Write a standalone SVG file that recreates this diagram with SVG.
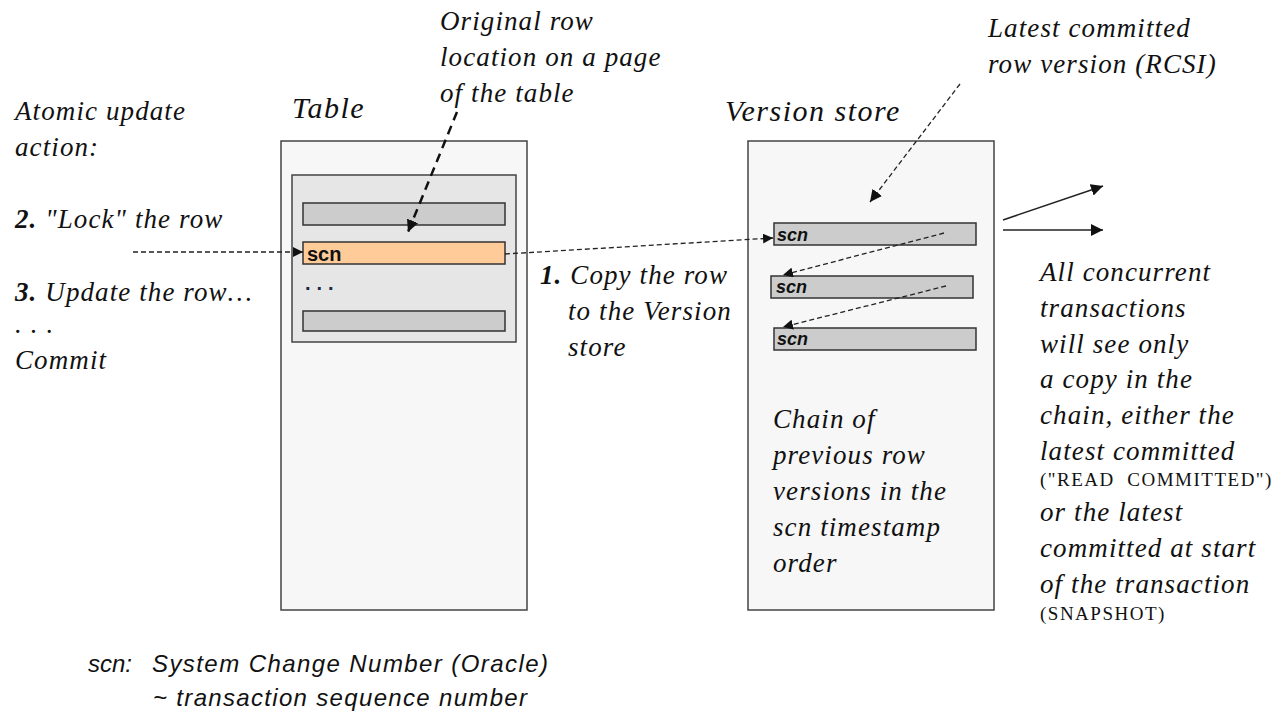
<svg xmlns="http://www.w3.org/2000/svg" width="1285" height="713" viewBox="0 0 1285 713">
<style>
.t{font-family:"Liberation Serif",serif;font-style:italic;font-size:27px;letter-spacing:1.1px;fill:#111}
.h{font-family:"Liberation Serif",serif;font-style:italic;font-size:30px;letter-spacing:1.5px;fill:#111}
.s{font-family:"Liberation Serif",serif;font-size:19px;letter-spacing:1.5px;fill:#111}
.f{font-family:"Liberation Sans",sans-serif;font-style:italic;font-size:24px;fill:#111}
.box{fill:#f7f7f7;stroke:#444;stroke-width:1.5}
.inner{fill:#e6e6e6;stroke:#444;stroke-width:1.5}
.row{fill:#cccccc;stroke:#333;stroke-width:1.5}
.hl{fill:#ffcc99;stroke:#333;stroke-width:1.5}
.scn{font-family:"Liberation Sans",sans-serif;font-weight:bold;font-style:italic;font-size:18px;fill:#111}
.d{fill:none;stroke:#222;stroke-width:1.3;stroke-dasharray:5,3}
.dt{fill:none;stroke:#111;stroke-width:2.5;stroke-dasharray:9,6}
.sl{fill:none;stroke:#222;stroke-width:1.5}
</style>
<defs>
<marker id="a" viewBox="0 0 10 10" refX="10" refY="5" markerWidth="10" markerHeight="10" markerUnits="userSpaceOnUse" orient="auto"><path d="M0,0 L10,5 L0,10 z" fill="#111"/></marker>
<marker id="ab" viewBox="0 0 10 10" refX="10" refY="5" markerWidth="12" markerHeight="12" markerUnits="userSpaceOnUse" orient="auto"><path d="M0,0 L10,5 L0,10 z" fill="#111"/></marker>
</defs>
<g id="table">
<rect class="box" x="281" y="141" width="246" height="469"/>
<rect class="inner" x="292" y="175" width="224" height="167"/>
<rect class="row" x="303" y="203" width="202" height="22"/>
<rect class="hl" x="303" y="242" width="202" height="22"/>
<text x="307" y="261" style="font-family:'Liberation Sans',sans-serif;font-weight:bold;font-size:20px;fill:#111">scn</text>
<text x="305" y="290" style="font-family:'Liberation Sans',sans-serif;font-weight:bold;font-size:20px;fill:#1a2a44;letter-spacing:6px">...</text>
<rect class="row" x="303" y="311" width="202" height="20"/>
<text class="h" x="292" y="118">Table</text>
</g>
<g id="version-store">
<rect class="box" x="748" y="141" width="246" height="469"/>
<rect class="row" x="774" y="223" width="202" height="22"/>
<text class="scn" x="777" y="241">scn</text>
<rect class="row" x="771" y="276" width="202" height="22"/>
<text class="scn" x="776" y="293">scn</text>
<rect class="row" x="774" y="328" width="202" height="22"/>
<text class="scn" x="777" y="345">scn</text>
<text class="h" x="725" y="121">Version store</text>
<text class="t" x="773" y="428">Chain of</text>
<text class="t" x="773" y="464">previous row</text>
<text class="t" x="773" y="500">versions in the</text>
<text class="t" x="773" y="536">scn timestamp</text>
<text class="t" x="773" y="572">order</text>
</g>
<g id="labels">
<text class="t" x="440" y="30">Original row</text>
<text class="t" x="440" y="66">location on a page</text>
<text class="t" x="440" y="102">of the table</text>
<text class="t" x="988" y="37">Latest committed</text>
<text class="t" x="988" y="73">row version (RCSI)</text>
<text class="t" x="15" y="120">Atomic update</text>
<text class="t" x="15" y="156">action:</text>
<text class="t" x="15" y="228"><tspan font-weight="bold">2.</tspan> "Lock" the row</text>
<text class="t" x="15" y="301"><tspan font-weight="bold">3.</tspan> Update the row…</text>
<text class="t" x="15" y="333">. . .</text>
<text class="t" x="15" y="369">Commit</text>
<text class="t" x="540" y="284"><tspan font-weight="bold">1.</tspan> Copy the row</text>
<text class="t" x="568" y="320">to the Version</text>
<text class="t" x="568" y="356">store</text>
<text class="t" x="1040" y="281">All concurrent</text>
<text class="t" x="1040" y="317">transactions</text>
<text class="t" x="1040" y="353">will see only</text>
<text class="t" x="1040" y="388">a copy in the</text>
<text class="t" x="1040" y="424">chain, either the</text>
<text class="t" x="1040" y="460">latest committed</text>
<text class="s" x="1040" y="486" letter-spacing="1.3">("READ&#160; COMMITTED")</text>
<text class="t" x="1040" y="521">or the latest</text>
<text class="t" x="1040" y="557">committed at start</text>
<text class="t" x="1040" y="593">of the transaction</text>
<text class="s" x="1040" y="620">(SNAPSHOT)</text>
<text class="f" x="88" y="672">scn:</text>
<text class="f" x="152" y="672" textLength="396" lengthAdjust="spacing">System Change Number (Oracle)</text>
<text class="f" x="153" y="706" textLength="374" lengthAdjust="spacing">~ transaction sequence number</text>
</g>
<g id="connectors">
<path class="dt" d="M457,112 L408,232" marker-end="url(#ab)"/>
<path class="d" d="M133,252 L303,252" marker-end="url(#a)"/>
<path class="d" d="M505,254 L773,238" marker-end="url(#a)"/>
<path class="d" d="M960,84 L870,202" marker-end="url(#ab)"/>
<path class="d" d="M944,233 L783,275" marker-end="url(#a)"/>
<path class="d" d="M946,286 L783,327" marker-end="url(#a)"/>
<path class="sl" d="M1003,220 L1103,186" marker-end="url(#ab)"/>
<path class="sl" d="M1003,230 L1103,230" marker-end="url(#ab)"/>
</g>
</svg>
